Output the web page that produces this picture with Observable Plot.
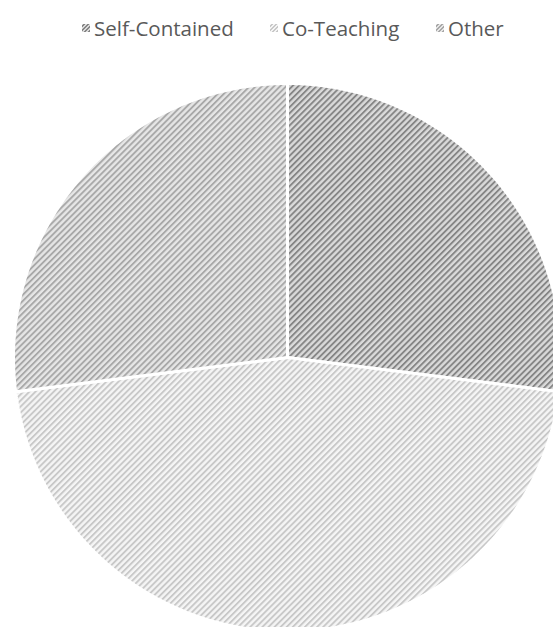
<!DOCTYPE html>
<html>
<head>
<meta charset="utf-8">
<script src="https://cdn.jsdelivr.net/npm/d3@7"></script>
<script src="https://cdn.jsdelivr.net/npm/@observablehq/plot@0.6"></script>
<style>
  html, body { margin: 0; padding: 0; background: #fff; overflow: hidden; }
  #legend { height: 60px; position: relative; font-family: "Open Sans", sans-serif; font-size: 20.5px; color: #595959; }
  .item { position: absolute; top: 14px; display: flex; align-items: center; white-space: nowrap; }
  .sw { width: 8px; height: 8px; margin-right: 4px; }
  #chart svg { display: block; }
</style>
</head>
<body>
<div id="legend"></div>
<div id="chart"></div>
<script>
const categories = ["Self-Contained", "Co-Teaching", "Other"];
const values = [27, 46, 27];
const fgColors = ["#868686", "#c8c8c8", "#a8a8a8"];
const bgColors = ["#dadada", "#f5f5f5", "#e6e6e6"];
const legendX = [82, 270, 436];

// legend
const legend = document.getElementById("legend");
categories.forEach((c, i) => {
  const it = document.createElement("div");
  it.className = "item";
  it.style.left = legendX[i] + "px";
  const sw = document.createElement("div");
  sw.className = "sw";
  sw.style.background = `repeating-linear-gradient(-45deg, ${fgColors[i]} 0 1.5px, ${bgColors[i]} 1.5px 3px)`;
  it.appendChild(sw);
  it.appendChild(document.createTextNode(c));
  legend.appendChild(it);
});

// pie geometry in unit coordinates (clockwise from 12 o'clock)
const arcs = d3.pie().sort(null).value(d => d)(values);
const pts = [];
arcs.forEach((a, i) => {
  const cat = categories[i];
  pts.push({cat, x: 0, y: 0, i});
  const n = Math.max(2, Math.ceil((a.endAngle - a.startAngle) / (Math.PI / 360)));
  for (let k = 0; k <= n; k++) {
    const t = a.startAngle + (a.endAngle - a.startAngle) * k / n;
    pts.push({cat, x: Math.sin(t), y: Math.cos(t), i});
  }
  pts.push({cat, x: 0, y: 0, i});
});

const W = 553, H = 567;
const cx = 287, cy = 297, r = 274;
const plot = Plot.plot({
  width: W,
  height: H,
  margin: 0,
  x: {domain: [-1, 1], range: [cx - r, cx + r], axis: null},
  y: {domain: [-1, 1], range: [cy + r, cy - r], axis: null},
  color: {type: "identity"},
  marks: [
    Plot.line(pts, {
      x: "x", y: "y", z: "cat",
      fill: d => `url(#pat${d.i})`,
      stroke: "white",
      strokeWidth: 3,
      strokeLinejoin: "miter",
      curve: "linear"
    })
  ]
});

// pattern defs
const ns = "http://www.w3.org/2000/svg";
const defs = document.createElementNS(ns, "defs");
categories.forEach((c, i) => {
  const p = document.createElementNS(ns, "pattern");
  p.setAttribute("id", "pat" + i);
  p.setAttribute("patternUnits", "userSpaceOnUse");
  p.setAttribute("width", "4.3");
  p.setAttribute("height", "8");
  p.setAttribute("patternTransform", "rotate(45)");
  const bg = document.createElementNS(ns, "rect");
  bg.setAttribute("width", "4.3"); bg.setAttribute("height", "8");
  bg.setAttribute("fill", bgColors[i]);
  const fg = document.createElementNS(ns, "rect");
  fg.setAttribute("width", "1.9"); fg.setAttribute("height", "8");
  fg.setAttribute("fill", fgColors[i]);
  p.appendChild(bg); p.appendChild(fg);
  defs.appendChild(p);
});
plot.insertBefore(defs, plot.firstChild);
plot.style.overflow = "hidden";
document.getElementById("chart").appendChild(plot);
</script>
</body>
</html>
